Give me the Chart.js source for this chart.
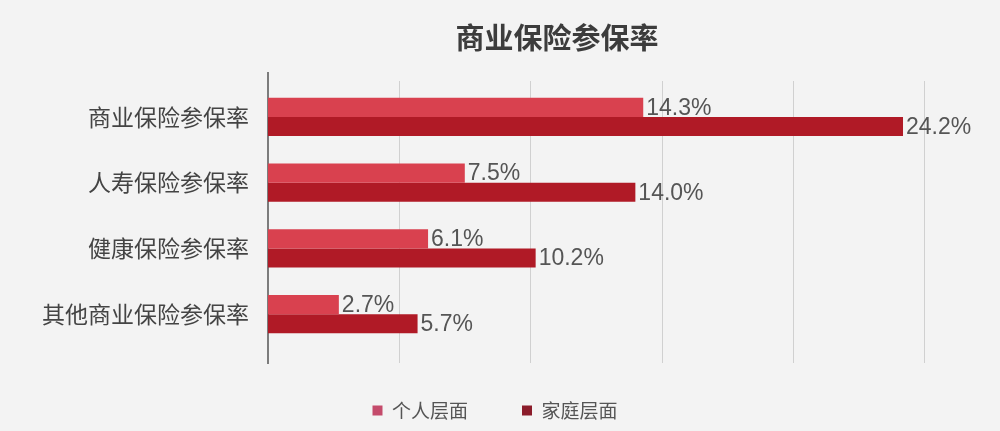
<!DOCTYPE html>
<html>
<head>
<meta charset="utf-8">
<script src="https://cdn.jsdelivr.net/npm/chart.js@4/dist/chart.umd.min.js"></script>
<style>
  html, body { margin: 0; padding: 0; background: #f3f3f3; }
  #wrap { width: 1000px; height: 431px; }
</style>
</head>
<body>
<div id="wrap"><canvas id="chart"></canvas></div>
<script>
const categories = ["商业保险参保率", "人寿保险参保率", "健康保险参保率", "其他商业保险参保率"];
const personalValues = [14.3, 7.5, 6.1, 2.7];
const familyValues = [24.2, 14.0, 10.2, 5.7];
const seriesNames = ["个人层面", "家庭层面"];
const chartTitle = "商业保险参保率";

const CJK = '"Noto Sans CJK SC", "Noto Sans", sans-serif';

// title drawn over the plot centre, not the canvas centre
const titlePlugin = {
    id: 'offsetTitle',
    afterDraw(chart) {
        const ctx = chart.ctx;
        ctx.save();
        ctx.font = 'bold 29px ' + CJK;
        ctx.fillStyle = '#3c3c3c';
        ctx.textAlign = 'center';
        ctx.textBaseline = 'middle';
        ctx.fillText(chartTitle, 557, 38);
        ctx.restore();
    }
};

// legend sits a little right of the canvas centre in the original
const legendShift = {
    id: 'legendShift',
    afterLayout(chart) {
        chart.legend.left += 33;
        chart.legend.right += 33;
    }
};

// grid lines and axis line run a bit past the plot area in the original
const longGrid = {
    id: 'longGrid',
    beforeDatasetsDraw(chart) {
        const ctx = chart.ctx;
        const x = chart.scales.x;
        const area = chart.chartArea;
        ctx.save();
        ctx.strokeStyle = '#d0d0d0';
        ctx.lineWidth = 1;
        x.ticks.forEach(t => {
            if (t.value === 0) return;
            const px = Math.round(x.getPixelForValue(t.value)) + 0.5;
            ctx.beginPath();
            ctx.moveTo(px, area.top - 3);
            ctx.lineTo(px, area.bottom + 16);
            ctx.stroke();
        });
        const x0 = x.getPixelForValue(0);
        ctx.strokeStyle = '#555555';
        ctx.lineWidth = 1.5;
        ctx.beginPath();
        ctx.moveTo(x0, area.top - 12);
        ctx.lineTo(x0, area.bottom + 17);
        ctx.stroke();
        ctx.restore();
    }
};

// value labels at the end of each bar
const valueLabels = {
    id: 'valueLabels',
    afterDatasetsDraw(chart) {
        const ctx = chart.ctx;
        ctx.save();
        ctx.font = '23px "Liberation Sans", Arial, sans-serif';
        ctx.fillStyle = '#555555';
        ctx.textAlign = 'left';
        ctx.textBaseline = 'middle';
        chart.data.datasets.forEach((ds, i) => {
            chart.getDatasetMeta(i).data.forEach((bar, j) => {
                ctx.fillText(ds.data[j].toFixed(1) + '%', bar.x + 3, bar.y + 1);
            });
        });
        ctx.restore();
    }
};

const legendColors = ['#c44b6b', '#8b1c2a'];

new Chart(document.getElementById('chart'), {
    type: 'bar',
    data: {
        labels: categories,
        datasets: [
            {
                label: seriesNames[0],
                data: personalValues,
                backgroundColor: '#d9414f',
                categoryPercentage: 0.58,
                barPercentage: 1.0
            },
            {
                label: seriesNames[1],
                data: familyValues,
                backgroundColor: '#b01a26',
                categoryPercentage: 0.58,
                barPercentage: 1.0
            }
        ]
    },
    options: {
        indexAxis: 'y',
        responsive: true,
        maintainAspectRatio: false,
        animation: false,
        layout: {
            padding: { top: 84, right: 76, bottom: 1, left: 0 }
        },
        scales: {
            x: {
                min: 0,
                max: 25,
                ticks: { display: false, stepSize: 5 },
                grid: { display: false, drawTicks: false },
                border: { display: false }
            },
            y: {
                afterFit(scale) { scale.width = 268; },
                ticks: {
                    color: '#444444',
                    font: { family: CJK, size: 23 },
                    padding: 11
                },
                grid: { display: false },
                border: { display: false }
            }
        },
        plugins: {
            legend: {
                position: 'bottom',
                labels: {
                    color: '#555555',
                    font: { family: CJK, size: 19 },
                    boxWidth: 10,
                    boxHeight: 10,
                    padding: 54,
                    generateLabels(chart) {
                        return chart.data.datasets.map((ds, i) => ({
                            text: ds.label,
                            fillStyle: legendColors[i],
                            strokeStyle: legendColors[i],
                            lineWidth: 0,
                            fontColor: '#555555',
                            datasetIndex: i
                        }));
                    }
                }
            },
            title: { display: false },
            tooltip: { enabled: false }
        }
    },
    plugins: [legendShift, longGrid, titlePlugin, valueLabels]
});
</script>
</body>
</html>
